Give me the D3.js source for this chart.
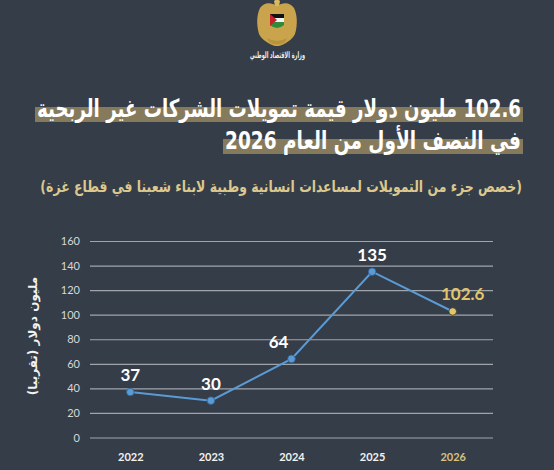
<!DOCTYPE html>
<html>
<head>
<meta charset="utf-8">
<script src="https://cdn.jsdelivr.net/npm/d3@7"></script>
<style>
  html, body { margin: 0; padding: 0; background: #343d48; }
  svg { display: block; }
</style>
</head>
<body>
<svg id="chart"></svg>
<script>
// chart data
const years = ["2022", "2023", "2024", "2025", "2026"];
const funding = [37, 30, 64, 135, 102.6];
const yTicks = [0, 20, 40, 60, 80, 100, 120, 140, 160];

const titleLines = ["102.6 مليون دولار قيمة تمويلات الشركات غير الربحية", "في النصف الأول من العام 2026"];
const subtitle = "(خصص جزء من التمويلات لمساعدات انسانية وطبية لابناء شعبنا في قطاع غزة)";
const yLabel = "مليون دولار (تقريبا)";
const ministry = "وزارة الاقتصاد الوطني";

const W = 554, H = 470;
const bg = "#343d48", blue = "#5b9bd5", gold = "#e3c56a", band = "#857a5c";
const arabicFont = "'DejaVu Sans', sans-serif";
const numFont = "Lato, 'Open Sans', sans-serif";

const svg = d3.select("#chart").attr("width", W).attr("height", H);
svg.append("rect").attr("width", W).attr("height", H).attr("fill", bg);

// squash a right-anchored text horizontally so it spans `target` px
function squash(sel, target, right) {
  const w = sel.node().getComputedTextLength();
  const k = Math.min(1, target / w);
  sel.attr("transform", `translate(${right},0) scale(${k},1) translate(${-right},0)`);
  return w * k;
}

// ---- logo (simplified emblem) ----
const logo = svg.append("g").attr("transform", "translate(277,0)");
const wing = "M0,6 C-6,2 -13,2 -17,8 C-20,14 -21,24 -18,34 C-15,40 -8,44 -2,46 L0,46 Z";
logo.append("path").attr("d", wing).attr("fill", "#c9a44c");
logo.append("path").attr("d", wing).attr("fill", "#c9a44c").attr("transform", "scale(-1,1)");
logo.append("path").attr("d", "M-3,1 Q0,-2 3,1 L2,6 L-2,6 Z").attr("fill", "#d9b860");
const shield = logo.append("g").attr("transform", "translate(0,14)");
shield.append("path").attr("d", "M-7,0 H7 V4 H-7 Z").attr("fill", "#111");
shield.append("path").attr("d", "M-7,4 H7 V8 H-7 Z").attr("fill", "#f2f2f2");
shield.append("path").attr("d", "M-7,8 H7 V11 Q0,17 -7,11 Z").attr("fill", "#2e8b3a");
shield.append("path").attr("d", "M-7,0 L0,6 L-7,12 Z").attr("fill", "#c8202b");
logo.append("path").attr("d", "M-10,38 Q0,44 10,38 L8,42 Q0,47 -8,42 Z").attr("fill", "#b8923c");
const mt = svg.append("text")
  .attr("x", 305).attr("y", 58)
  .attr("direction", "rtl").attr("text-anchor", "start")
  .attr("font-family", arabicFont).attr("font-weight", "bold").attr("font-size", 9)
  .attr("fill", "#f0f0f0")
  .text(ministry);
squash(mt, 55, 305);

// ---- title with highlight bands ----
const titleRight = 521;
const titleY = [117, 149];
const titleWidth = [484, 296];
const titleG = svg.append("g");
titleLines.forEach((line, i) => {
  const t = titleG.append("text")
    .attr("x", titleRight).attr("y", titleY[i])
    .attr("direction", "rtl").attr("text-anchor", "start")
    .attr("font-family", arabicFont).attr("font-weight", "bold").attr("font-size", 25)
    .attr("fill", "#ffffff")
    .text(line);
  const w = squash(t, titleWidth[i], titleRight);
  titleG.insert("rect", "text")
    .attr("x", titleRight - w - 2).attr("width", w + 4)
    .attr("y", titleY[i] - 10).attr("height", 15)
    .attr("fill", band);
});

const sub = svg.append("text")
  .attr("x", 522).attr("y", 192)
  .attr("direction", "rtl").attr("text-anchor", "start")
  .attr("font-family", arabicFont).attr("font-weight", "bold").attr("font-size", 16)
  .attr("fill", "#dcc88e")
  .text(subtitle);
squash(sub, 482, 522);

// ---- chart ----
const x = d3.scalePoint().domain(years).range([90, 493]).padding(0.5);
const y = d3.scaleLinear().domain([0, 160]).range([437.5, 241]);

const grid = svg.append("g")
  .attr("transform", "translate(90,0)")
  .call(d3.axisLeft(y).tickValues(yTicks).tickSize(-(493 - 90)).tickPadding(10));
grid.select(".domain").remove();
grid.selectAll(".tick line").attr("stroke", "#a0a5ac").attr("stroke-width", 1.2);
grid.selectAll(".tick text")
  .attr("fill", "#d6d8db").attr("font-family", numFont).attr("font-size", 11);

const xAxis = svg.append("g")
  .attr("transform", "translate(0,437.5)")
  .call(d3.axisBottom(x).tickSize(0).tickPadding(16));
xAxis.select(".domain").remove();
xAxis.selectAll(".tick text")
  .attr("fill", d => d === "2026" ? "#d8c27e" : "#f2f2f2")
  .attr("font-family", numFont).attr("font-weight", "bold").attr("font-size", 11);

svg.append("text")
  .attr("transform", `translate(37,336) rotate(-90)`)
  .attr("text-anchor", "middle")
  .attr("direction", "rtl")
  .attr("font-family", arabicFont).attr("font-weight", "bold").attr("font-size", 12)
  .attr("fill", "#f2f2f2")
  .text(yLabel);

const pts = years.map((yr, i) => ({ year: yr, value: funding[i] }));
const lastYear = years[years.length - 1];

svg.append("path")
  .datum(pts)
  .attr("fill", "none").attr("stroke", blue).attr("stroke-width", 2)
  .attr("d", d3.line().x(d => x(d.year)).y(d => y(d.value)));

svg.selectAll("circle.pt").data(pts).join("circle")
  .attr("class", "pt")
  .attr("cx", d => x(d.year)).attr("cy", d => y(d.value)).attr("r", 3.8)
  .attr("fill", d => d.year === lastYear ? gold : blue)
  .attr("stroke", d => d.year === lastYear ? "#3a3a2a" : "#2d5f8c").attr("stroke-width", 0.8);

// label nudges (Excel-style placement)
const nudge = { "2024": -13, "2026": 10 };
svg.selectAll("text.val").data(pts).join("text")
  .attr("class", "val")
  .attr("x", d => x(d.year) + (nudge[d.year] || 0))
  .attr("y", d => y(d.value) - 11)
  .attr("text-anchor", "middle")
  .attr("font-family", numFont).attr("font-weight", "bold").attr("font-size", 17)
  .attr("fill", d => d.year === lastYear ? gold : "#ffffff")
  .text(d => d.value);
</script>
</body>
</html>
